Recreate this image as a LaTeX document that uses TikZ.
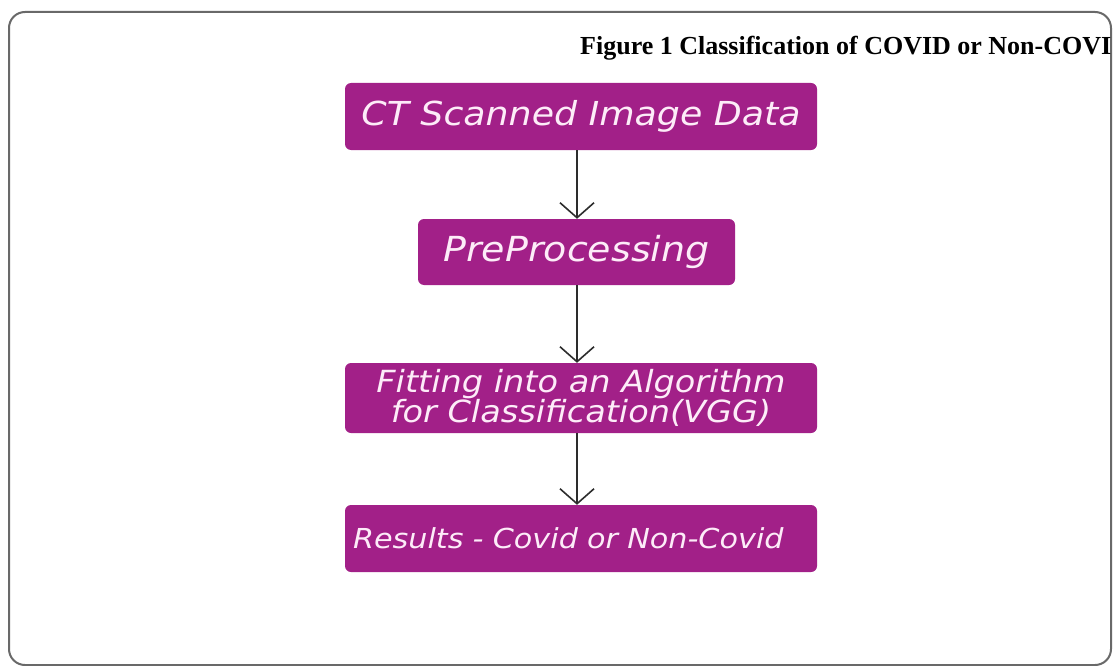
\documentclass[tikz,border=0pt]{standalone}
\usepackage{fontspec}
\setmainfont{Liberation Serif}
\newfontfamily\boxfont{DejaVu Sans}[FakeStretch=1.1]
\usetikzlibrary{arrows.meta,calc}
\definecolor{boxpurple}{RGB}{162,32,136}
\definecolor{boxtext}{RGB}{253,236,248}
\definecolor{framegray}{RGB}{105,105,105}
\definecolor{arrowgray}{RGB}{45,45,45}
\tikzset{
  flowbox/.style={rectangle, rounded corners=6pt, fill=boxpurple, text=boxtext,
    font=\boxfont\itshape, inner sep=0pt, align=center},
  flowarrow/.style={draw=arrowgray, line width=1.6pt,
    -{Straight Barb[length=15pt,width=34pt,line width=1.6pt]}},
}
\begin{document}
\begin{tikzpicture}[x=1pt,y=-1pt]
\useasboundingbox (0,0) rectangle (1113,666);
\fill[white] (0,0) rectangle (1113,666);
\draw[framegray, line width=2pt, rounded corners=16pt] (9,12) rectangle (1111,665);
\node[anchor=base west, font=\fontsize{26}{30}\selectfont\bfseries, inner sep=0pt] (title) at (580,55) {Figure 1 Classification of COVID or Non-COVI};
\node[flowbox, minimum width=472pt, minimum height=67pt, font=\boxfont\itshape\fontsize{33}{36}\selectfont] (b1) at (581,116.5) {CT Scanned Image Data};
\node[flowbox, minimum width=317pt, minimum height=66pt, font=\boxfont\itshape\fontsize{34.5}{36}\selectfont] (b2) at (576.5,252) {PreProcessing};
\node[flowbox, minimum width=472pt, minimum height=70pt, font=\boxfont\itshape\fontsize{30.5}{29}\selectfont] (b3) at (581,398) {Fitting into an Algorithm\\for Classification(VGG)};
\node[flowbox, minimum width=472pt, minimum height=67pt, text width=456pt, inner xsep=8pt, align=left, font=\boxfont\itshape\fontsize{27.5}{32}\selectfont] (b4) at (581,538.5) {Results - Covid or Non-Covid};
\coordinate (ax) at (577,0);
\draw[flowarrow] (b1.south -| ax) -- (b2.north -| ax);
\draw[flowarrow] (b2.south -| ax) -- (b3.north -| ax);
\draw[flowarrow] (b3.south -| ax) -- (b4.north -| ax);
\end{tikzpicture}
\end{document}
